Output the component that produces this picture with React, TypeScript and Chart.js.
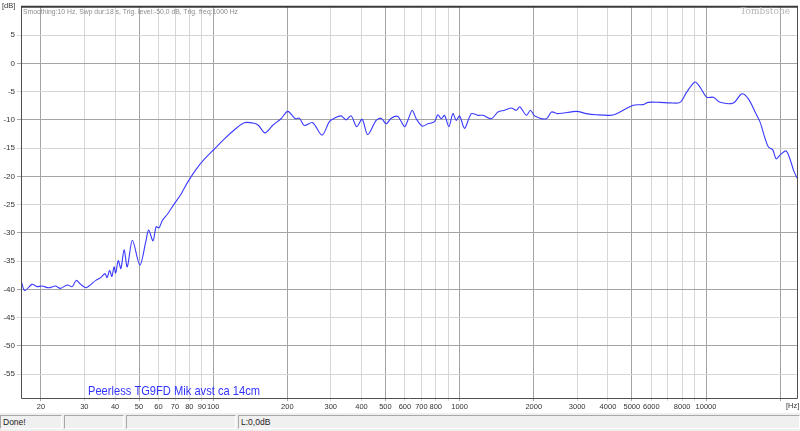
import React, { useEffect, useRef } from 'react';
import { Chart, registerables } from 'chart.js';

Chart.register(...registerables);

// Frequency response (Hz -> dB)
const FREQ = [
  16.6, 17.2, 18.4, 19.3, 20.2, 21.5, 22.9, 24.0, 25.6, 26.8, 27.8, 29.0, 30.4, 31.3, 33.4, 35.0,
  36.4, 37.1, 38.0, 38.8, 39.6, 40.2, 41.2, 42.2, 43.5, 44.8, 47.0, 50.4, 53.3, 54.7, 57.0, 58.7,
  60.3, 62.2, 65.2, 69.4, 73.9, 78.6, 85.1, 91.9, 100.9, 110.8, 121.7, 133.7, 146.8, 152.8, 162.3,
  174.2, 188.5, 200.9, 215.4, 223.7, 234.4, 253.3, 276.6, 296.2, 310.4, 330.5, 346.3, 362.9, 382.4,
  402.3, 423.8, 458.5, 480.5, 503.5, 527.7, 561.3, 597.6, 616.4, 642.4, 666.8, 705.3, 743.1, 791.3,
  816.1, 842.5, 869.0, 904.7, 939.3, 969.6, 1000, 1048, 1116, 1187, 1244, 1346, 1431, 1524, 1623,
  1700, 1753, 1867, 1939, 2018, 2251, 2360, 2509, 2982, 3273, 3594, 4072, 4335, 5063, 5561, 5827,
  6503, 7141, 7842, 8347, 9022, 9454, 10065, 10707, 11400, 12913, 13967, 14859, 15817, 16573, 17366,
  17914, 18665, 19254, 19987, 21146, 22097, 22642, 23400,
];
const DB = [
  -38.4, -40.2, -39.1, -39.5, -39.4, -39.7, -39.4, -39.8, -39.2, -39.5, -38.4, -39.1, -39.7, -39.4, -38.4, -37.9,
  -37.2, -37.9, -36.6, -37.7, -36.0, -37.1, -34.9, -36.3, -33.0, -36.0, -31.3, -35.7, -31.5, -29.5, -31.4, -28.9,
  -29.1, -27.8, -26.7, -24.9, -23.2, -21.1, -18.8, -17.0, -15.2, -13.4, -11.8, -10.5, -10.6, -11.0, -12.3,
  -11.0, -9.8, -8.5, -9.8, -9.7, -11.0, -10.5, -12.7, -10.3, -9.7, -9.3, -10.0, -9.3, -11.2,
  -9.9, -12.6, -10.1, -9.7, -10.7, -9.7, -9.4, -11.2, -10.1, -8.3, -9.8, -11.1, -10.7, -10.3,
  -9.1, -9.8, -9.2, -11.2, -8.9, -10.1, -9.3, -11.5, -8.9, -9.2, -9.2, -9.8, -8.6, -8.3, -7.9,
  -8.3, -7.7, -9.2, -8.3, -9.3, -9.8, -8.6, -8.9, -8.5, -8.9, -9.1, -9.2, -8.9, -7.4, -7.3, -6.9,
  -6.9, -7.0, -6.9, -5.1, -3.3, -4.2, -6.0, -6.0, -6.9, -7.0, -5.4, -6.3, -8.6, -10.4, -13.3,
  -14.8, -15.3, -16.9, -16.2, -15.5, -17.4, -18.9, -20.3,
];

const X_MIN = 16.6;
const X_MAX = 23400;
const Y_MIN = -59.2;
const Y_MAX = 10;

const X_GRID = [
  20, 30, 40, 50, 60, 70, 80, 90, 100, 200, 300, 400, 500, 600, 700, 800, 900, 1000,
  2000, 3000, 4000, 5000, 6000, 7000, 8000, 9000, 10000, 20000,
];
const X_LABELS = [
  20, 30, 40, 50, 60, 70, 80, 90, 100, 200, 300, 400, 500, 600, 700, 800, 1000,
  2000, 3000, 4000, 5000, 6000, 8000, 10000,
];
const Y_TICKS = [5, 0, -5, -10, -15, -20, -25, -30, -35, -40, -45, -50, -55];

const HEADER = 'Smoothing:10 Hz, Swp dur:18 s, Trig. level:-50,0 dB, Trig. freq:1000 Hz';
const BRAND = 'Tombstone';
const SERIES_LABEL = 'Peerless TG9FD Mik avst ca 14cm';
const Y_UNIT = '[dB]';
const X_UNIT = '[Hz]';
const STATUS = ['Done!', '', '', 'L:0,0dB'];

const DARK_GRID = '#a4a4a4';
const LIGHT_GRID = '#d6d6d6';

function isMajorFreq(v: number) {
  const m = v / Math.pow(10, Math.floor(Math.log10(v) + 1e-9));
  return Math.abs(m - 1) < 0.01 || Math.abs(m - 2) < 0.01 || Math.abs(m - 5) < 0.01;
}

const overlayPlugin = {
  id: 'overlay',
  afterDraw(chart: any) {
    const { ctx, chartArea } = chart;
    const { left, top, right, bottom } = chartArea;
    ctx.save();
    // frame
    ctx.strokeStyle = '#505050';
    ctx.lineWidth = 1;
    ctx.beginPath();
    ctx.moveTo(left + 0.5, top);
    ctx.lineTo(left + 0.5, bottom + 0.5);
    ctx.lineTo(right + 0.5, bottom + 0.5);
    ctx.lineTo(right + 0.5, top);
    ctx.stroke();
    ctx.lineWidth = 2;
    ctx.strokeStyle = '#3a3a3a';
    ctx.beginPath();
    ctx.moveTo(left, top);
    ctx.lineTo(right + 1, top);
    ctx.stroke();

    ctx.textBaseline = 'middle';
    // header
    ctx.font = '8px "Liberation Sans", Arial, sans-serif';
    ctx.fillStyle = '#8c8c8c';
    ctx.textAlign = 'left';
    ctx.fillText(HEADER, left + 2, top + 5, 215);
    // brand
    ctx.font = '9px "DejaVu Serif", serif';
    ctx.fillStyle = '#b4b4b4';
    ctx.textAlign = 'right';
    ctx.fillText(BRAND, right - 7, top + 5);
    // units
    ctx.font = '7.5px "Liberation Sans", Arial, sans-serif';
    ctx.fillStyle = '#333';
    ctx.textAlign = 'left';
    ctx.fillText(Y_UNIT, 2, 6);
    ctx.fillText(X_UNIT, 786, bottom + 8);
    // series label
    ctx.font = '13px "Liberation Sans", Arial, sans-serif';
    ctx.fillStyle = '#3434ff';
    ctx.textAlign = 'left';
    ctx.fillText(SERIES_LABEL, 88, 391, 172);
    ctx.restore();
  },
};

export default function App() {
  const ref = useRef<HTMLCanvasElement>(null);

  useEffect(() => {
    if (!ref.current) return;
    const data = FREQ.map((f, i) => ({ x: f, y: DB[i] }));
    const chart = new Chart(ref.current, {
      type: 'line',
      data: {
        datasets: [
          {
            label: SERIES_LABEL,
            data,
            borderColor: '#3a3aff',
            borderWidth: 1.1,
            pointRadius: 0,
            tension: 0.3,
            fill: false,
          },
        ],
      },
      options: {
        animation: false,
        responsive: false,
        devicePixelRatio: 1,
        layout: { padding: { left: 0, top: 4, right: 3, bottom: 0 } },
        plugins: {
          legend: { display: false },
          tooltip: { enabled: false },
        },
        scales: {
          x: {
            type: 'logarithmic',
            min: X_MIN,
            max: X_MAX,
            afterBuildTicks: (scale: any) => {
              scale.ticks = X_GRID.map((v) => ({ value: v }));
            },
            afterFit: (scale: any) => {
              scale.height = 15;
            },
            border: { display: false },
            grid: {
              color: (c: any) => (c.tick && isMajorFreq(c.tick.value) ? DARK_GRID : LIGHT_GRID),
              tickLength: 3,
              lineWidth: 1,
            },
            ticks: {
              autoSkip: false,
              maxRotation: 0,
              minRotation: 0,
              padding: 1,
              color: '#333',
              font: { family: '"Liberation Sans", Arial, sans-serif', size: 7.5 },
              callback: (v: any) => (X_LABELS.includes(Number(v)) ? String(v) : ''),
            },
          },
          y: {
            type: 'linear',
            min: Y_MIN,
            max: Y_MAX,
            afterBuildTicks: (scale: any) => {
              scale.ticks = Y_TICKS.map((v) => ({ value: v }));
            },
            afterFit: (scale: any) => {
              scale.width = 21;
            },
            border: { display: false },
            grid: {
              color: (c: any) => (c.tick && c.tick.value % 10 === 0 ? DARK_GRID : LIGHT_GRID),
              tickLength: 4,
              lineWidth: 1,
            },
            ticks: {
              padding: 2,
              color: '#333',
              font: { family: '"Liberation Sans", Arial, sans-serif', size: 8 },
              callback: (v: any) => String(v),
            },
          },
        },
      },
      plugins: [overlayPlugin],
    });
    return () => chart.destroy();
  }, []);

  const panels = [
    { left: 0, width: 62 },
    { left: 64, width: 60 },
    { left: 126, width: 110 },
    { left: 238, width: 562 },
  ];

  return (
    <div style={{ position: 'absolute', left: 0, top: 0, width: 800, height: 431, background: '#fff', overflow: 'hidden' }}>
      <canvas ref={ref} width={800} height={413} style={{ display: 'block', width: 800, height: 413 }} />
      <div style={{ position: 'absolute', left: 0, top: 413, width: 800, height: 18, background: '#f0f0f0' }}>
        {panels.map((p, i) => (
          <div
            key={i}
            style={{
              position: 'absolute',
              left: p.left,
              top: 2,
              width: p.width,
              height: 14,
              boxSizing: 'border-box',
              borderTop: '1px solid #a8a8a8',
              borderLeft: '1px solid #a8a8a8',
              borderBottom: '1px solid #ffffff',
              borderRight: '1px solid #ffffff',
              font: '8.5px "Liberation Sans", Arial, sans-serif',
              color: '#222',
              lineHeight: '12px',
              paddingLeft: 2,
              whiteSpace: 'nowrap',
            }}
          >
            {STATUS[i]}
          </div>
        ))}
      </div>
    </div>
  );
}
